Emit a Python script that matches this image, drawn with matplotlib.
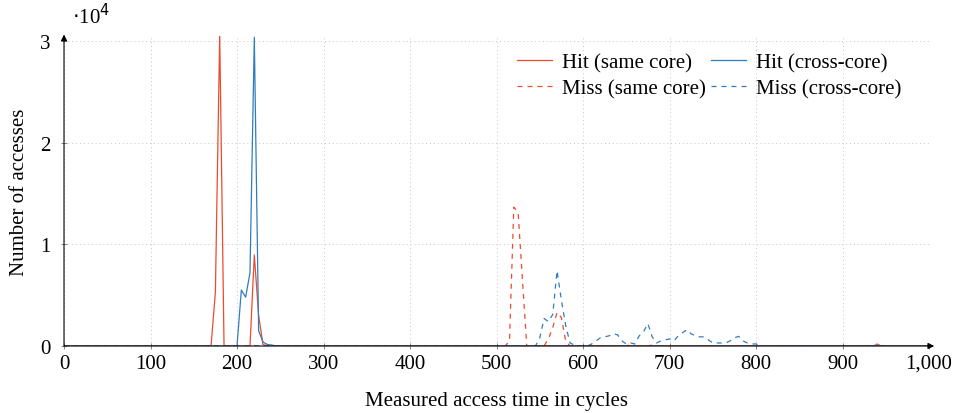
import matplotlib
matplotlib.use("Agg")
import matplotlib.pyplot as plt
from matplotlib.ticker import FuncFormatter

# access-time histograms, bins of 5 cycles (zeros elsewhere)
hit_same_x = [0, 170, 175, 180, 185, 215, 220, 225, 230, 235, 1000]
hit_same_y = [0, 0, 5300, 30600, 0, 0, 8950, 3000, 150, 0, 0]

hit_cross_x = [0, 200, 205, 210, 215, 220, 225, 230, 235, 240, 245, 1000]
hit_cross_y = [0, 0, 5500, 4800, 7200, 30350, 1500, 400, 150, 100, 0, 0]

miss_same_x = [0, 510, 515, 520, 525, 530, 535, 555, 560, 565, 570, 575, 580, 585,
               645, 650, 655, 675, 680, 685, 935, 940, 945, 1000]
miss_same_y = [0, 0, 500, 13650, 13100, 6500, 0, 0, 700, 1800, 3300, 2800, 500, 0,
               0, 100, 0, 0, 100, 0, 0, 200, 0, 0]

miss_cross_x = [0, 545, 550, 555, 560, 565, 570, 575, 580, 585, 590, 595, 605, 610,
                615, 620, 625, 630, 635, 640, 645, 650, 655, 660, 665, 670, 675, 680,
                685, 690, 695, 700, 705, 710, 715, 720, 725, 730, 735, 740, 745, 750,
                755, 760, 765, 770, 775, 780, 785, 790, 795, 800, 805, 935, 940, 945, 1000]
miss_cross_y = [0, 0, 800, 2700, 2400, 3100, 7400, 4500, 2000, 300, 100, 0, 0, 200,
                500, 800, 900, 1000, 1200, 1100, 500, 200, 300, 200, 1000, 1400, 2200, 900,
                300, 500, 600, 700, 500, 1000, 1300, 1600, 1200, 1000, 900, 900, 600, 300,
                300, 300, 300, 500, 800, 950, 500, 300, 200, 200, 0, 0, 150, 0, 0]

red = '#ee4a2e'
blue = '#2f7dbf'

plt.rcParams['font.family'] = ['Liberation Serif', 'DejaVu Serif']
plt.rcParams['font.size'] = 15

fig = plt.figure(figsize=(9.54, 4.14), dpi=100)
ax = fig.add_axes([0.0671, 0.1618, 0.9067, 0.7494])

lw = 0.9
dash = (0, (4, 4))
h1, = ax.plot(hit_same_x, hit_same_y, color=red, lw=lw, label='Hit (same core)')
h2, = ax.plot(hit_cross_x, hit_cross_y, color=blue, lw=lw, label='Hit (cross-core)')
h3, = ax.plot(miss_same_x, miss_same_y, color=red, lw=lw, ls=dash, label='Miss (same core)')
h4, = ax.plot(miss_cross_x, miss_cross_y, color=blue, lw=lw, ls=dash, label='Miss (cross-core)')

ax.set_xlim(0, 1000)
ax.set_ylim(0, 30500)
ax.set_xticks(range(0, 1001, 100))
ax.set_yticks([0, 10000, 20000, 30000])
ax.xaxis.set_major_formatter(FuncFormatter(lambda v, p: f'{int(v):,}'))
ax.yaxis.set_major_formatter(FuncFormatter(lambda v, p: f'{int(v / 10000)}'))
ax.grid(True, color='0.78', lw=0.7, ls=(0, (1, 3)))
ax.tick_params(axis='x', direction='inout', length=5, width=0.6, color='0.45', pad=3)
ax.tick_params(axis='y', direction='inout', length=5, width=0.6, color='0.45', pad=7)

for s in ax.spines.values():
    s.set_visible(False)
ax.annotate('', xy=(1.006, 0), xytext=(0, 0), xycoords='axes fraction',
            arrowprops=dict(arrowstyle='-|>', color='black', lw=0.8,
                            shrinkA=0, shrinkB=0, mutation_scale=9))
ax.annotate('', xy=(0, 1.004), xytext=(0, 0), xycoords='axes fraction',
            arrowprops=dict(arrowstyle='-|>', color='black', lw=0.8,
                            shrinkA=0, shrinkB=0, mutation_scale=9))

ax.text(0.009, 1.025, r'$\cdot$10$^4$', transform=ax.transAxes, fontsize=15,
        ha='left', va='bottom')

ax.set_xlabel('Measured access time in cycles', labelpad=13)
ax.set_ylabel('Number of accesses', labelpad=8)

ax.legend([h1, h3, h2, h4], [h1.get_label(), h3.get_label(), h2.get_label(), h4.get_label()],
          ncol=2, frameon=False, loc='upper right', bbox_to_anchor=(0.982, 0.985),
          handlelength=1.7, handletextpad=0.45, columnspacing=0.25, labelspacing=0.32,
          borderaxespad=0.2)

fig.savefig('out.png', dpi=100)
